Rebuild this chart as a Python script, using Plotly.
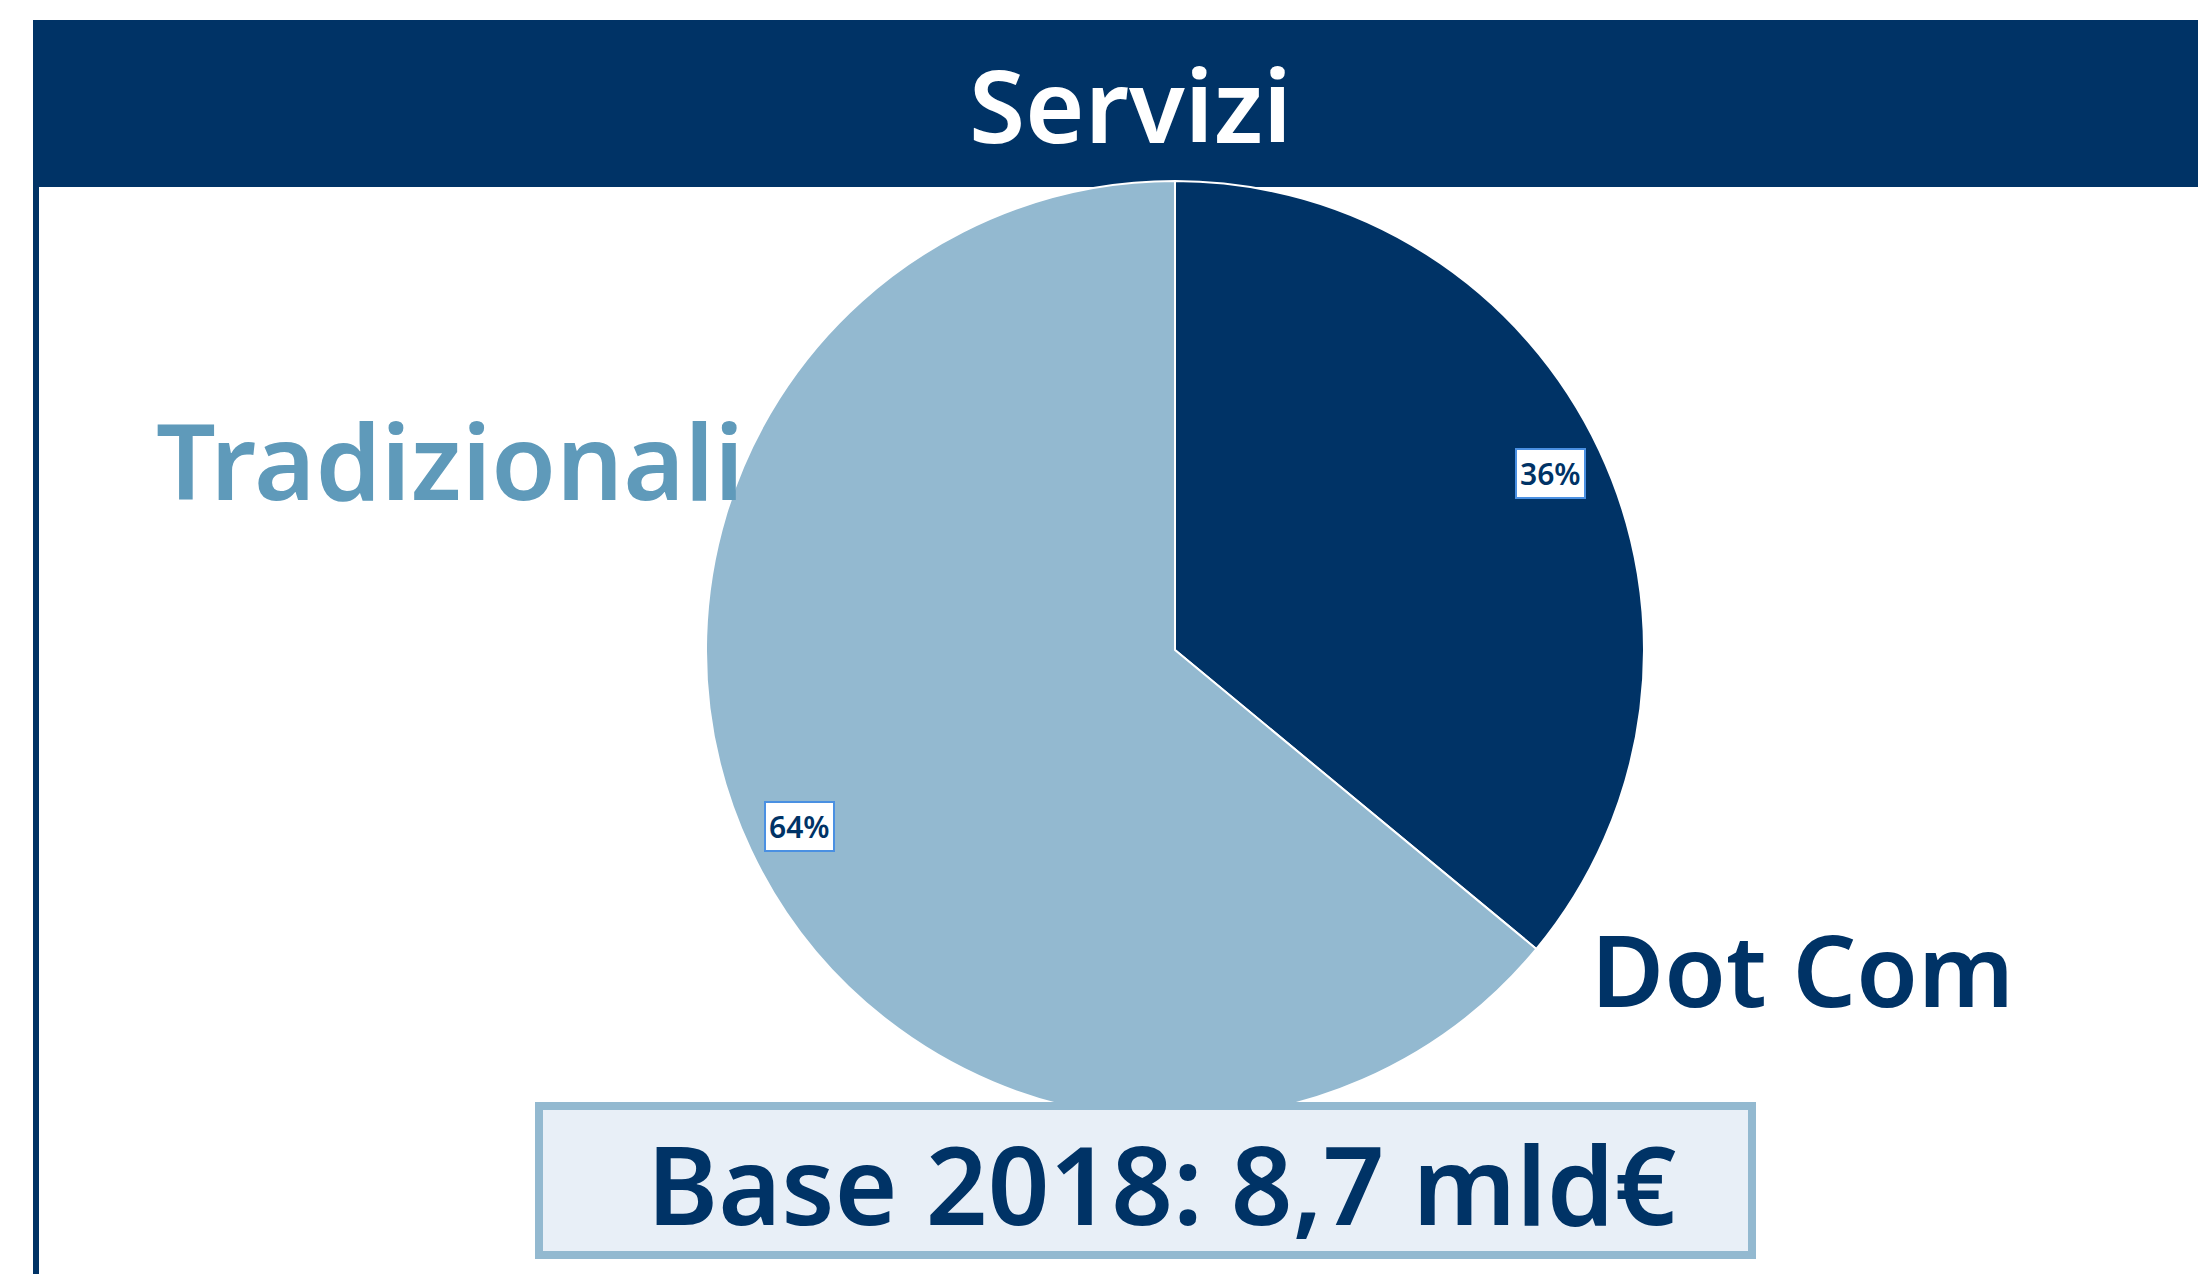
import math
import plotly.graph_objects as go

# ---- data ----
categories = ["Dot Com", "Tradizionali"]
values = [36, 64]
title_text = "Servizi"
base_text = "Base 2018: 8,7 mld€"

# ---- style ----
W, H = 2198, 1274
NAVY = "#003366"
LIGHT = "#93B9D0"
TRAD_TXT = "#5F9ABA"
FONT = "Noto Sans"

cx, cy, R = 1175, 650, 469  # pie centre / radius in px


def px(x):
    return x / W


def py(y):
    return 1 - y / H


fig = go.Figure()
fig.add_trace(go.Pie(
    labels=categories,
    values=values,
    sort=False,
    direction="clockwise",
    rotation=0,
    marker=dict(colors=[NAVY, LIGHT], line=dict(color="white", width=2)),
    textinfo="none",
    hoverinfo="skip",
    showlegend=False,
    domain=dict(x=[px(cx - R), px(cx + R)], y=[py(cy + R), py(cy - R)]),
))

shapes = [
    # header band
    dict(type="rect", xref="paper", yref="paper", x0=px(34), x1=px(W + 5), y0=py(187), y1=py(20),
         fillcolor=NAVY, line=dict(width=0), layer="below"),
    # left vertical rule
    dict(type="rect", xref="paper", yref="paper", x0=px(33), x1=px(39), y0=py(H + 5), y1=py(20),
         fillcolor=NAVY, line=dict(width=0), layer="below"),
    # base box
    dict(type="rect", xref="paper", yref="paper", x0=px(539), x1=px(1752), y0=py(1255), y1=py(1106),
         fillcolor="#E8EFF7", line=dict(color=LIGHT, width=8), layer="above"),
]

annotations = [
    dict(text=title_text, x=px(1130), y=py(104), xref="paper", yref="paper",
         showarrow=False, xanchor="center", yanchor="middle",
         font=dict(family=FONT, size=102, color="white", weight=600)),
    dict(text=base_text, x=px(1161), y=py(1183), xref="paper", yref="paper",
         showarrow=False, xanchor="center", yanchor="middle",
         font=dict(family=FONT, size=108, color=NAVY, weight=600)),
    dict(text=categories[1], x=px(450), y=py(460), xref="paper", yref="paper",
         showarrow=False, xanchor="center", yanchor="middle",
         font=dict(family=FONT, size=105, color=TRAD_TXT, weight=600)),
    dict(text=categories[0], x=px(1802), y=py(968), xref="paper", yref="paper",
         showarrow=False, xanchor="center", yanchor="middle",
         font=dict(family=FONT, size=100, color=NAVY, weight=600)),
]

# percentage labels placed at each slice's mid-angle
total = sum(values)
cum = 0
for v in values:
    a = math.radians((cum + v / 2) / total * 360)
    cum += v
    lx = cx + 0.886 * R * math.sin(a)
    ly = cy - 0.886 * R * math.cos(a)
    annotations.append(dict(
        text=f"{round(v / total * 100)}%", x=px(lx), y=py(ly), xref="paper", yref="paper",
        showarrow=False, xanchor="center", yanchor="middle",
        font=dict(family=FONT, size=30, color=NAVY, weight=600),
        bgcolor="white", bordercolor="#4A90E2", borderwidth=2, borderpad=3,
    ))

fig.update_layout(
    width=W, height=H,
    margin=dict(l=0, r=0, t=0, b=0),
    paper_bgcolor="white", plot_bgcolor="white",
    shapes=shapes, annotations=annotations,
)

fig.write_html(
    "out.html",
    config={"displayModeBar": False},
    post_script="document.body.style.margin='0';document.body.style.overflow='hidden';",
)
